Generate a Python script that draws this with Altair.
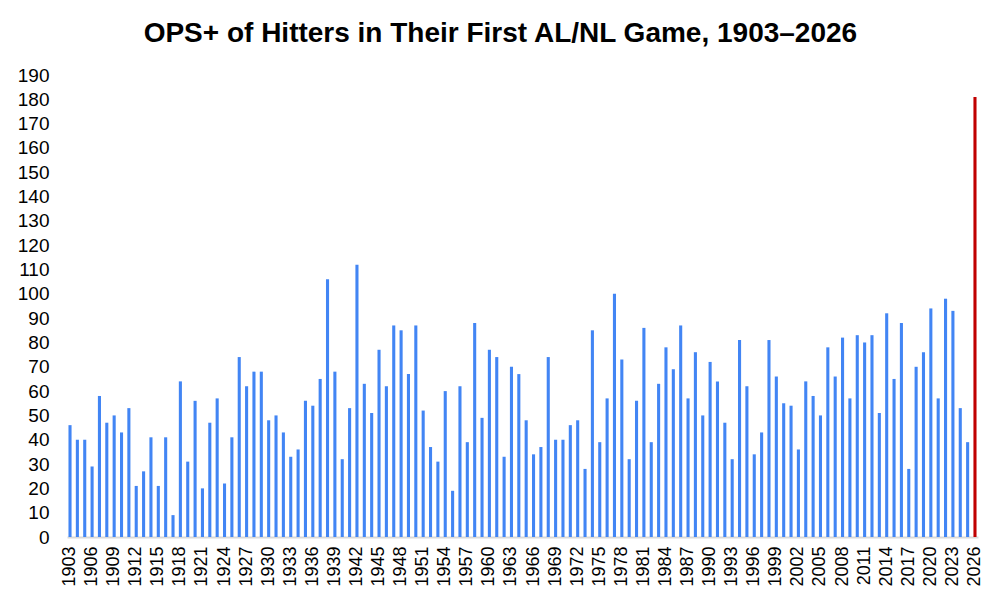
import altair as alt
import pandas as pd

years = list(range(1903, 2027))
ops_plus = [
    46, 40, 40, 29, 58, 47, 50, 43, 53, 21,   # 1903-1912
    27, 41, 21, 41, 9, 64, 31, 56, 20, 47,    # 1913-1922
    57, 22, 41, 74, 62, 68, 68, 48, 50, 43,   # 1923-1932
    33, 36, 56, 54, 65, 106, 68, 32, 53, 112, # 1933-1942
    63, 51, 77, 62, 87, 85, 67, 87, 52, 37,   # 1943-1952
    31, 60, 19, 62, 39, 88, 49, 77, 74, 33,   # 1953-1962
    70, 67, 48, 34, 37, 74, 40, 40, 46, 48,   # 1963-1972
    28, 85, 39, 57, 100, 73, 32, 56, 86, 39,  # 1973-1982
    63, 78, 69, 87, 57, 76, 50, 72, 64, 47,   # 1983-1992
    32, 81, 62, 34, 43, 81, 66, 55, 54, 36,   # 1993-2002
    64, 58, 50, 78, 66, 82, 57, 83, 80, 83,   # 2003-2012
    51, 92, 65, 88, 28, 70, 76, 94, 57, 98,   # 2013-2022
    93, 53, 39, 181,                          # 2023-2026
]
highlight_year = 2026
label_years = years[::3]
y_ticks = list(range(0, 200, 10))

df = pd.DataFrame({"year": years, "ops": ops_plus})

FONT = "Liberation Sans"

chart = (
    alt.Chart(df)
    .mark_bar()
    .encode(
        x=alt.X(
            "year:O",
            scale=alt.Scale(paddingInner=0.58, paddingOuter=0.2),
            axis=alt.Axis(
                title=None,
                values=label_years,
                labelAngle=-90,
                labelAlign="right",
                labelBaseline="middle",
                labelFontSize=18,
                labelColor="#000000",
                labelPadding=9,
                labelFont=FONT,
                ticks=False,
                domainColor="#d9d9d9",
                domainWidth=2,
            ),
        ),
        y=alt.Y(
            "ops:Q",
            scale=alt.Scale(domain=[0, 190], nice=False),
            axis=alt.Axis(
                title=None,
                values=y_ticks,
                labelFontSize=19,
                labelColor="#000000",
                labelFont=FONT,
                labelPadding=18,
                ticks=False,
                domain=False,
                grid=False,
            ),
        ),
        color=alt.condition(
            alt.datum.year == highlight_year,
            alt.value("#c00000"),
            alt.value("#4285f4"),
        ),
    )
    .properties(
        width=911,
        height=462,
        title=alt.TitleParams(
            "OPS+ of Hitters in Their First AL/NL Game, 1903–2026",
            font=FONT,
            fontSize=28,
            fontWeight="bold",
            color="#000000",
            anchor="middle",
            frame="bounds",
            offset=18,
        ),
        padding={"left": 9, "top": 12, "right": 10, "bottom": 5},
        background="white",
    )
    .configure_view(stroke=None)
)

chart.save("out.html", embed_options={"renderer": "svg", "actions": False})
